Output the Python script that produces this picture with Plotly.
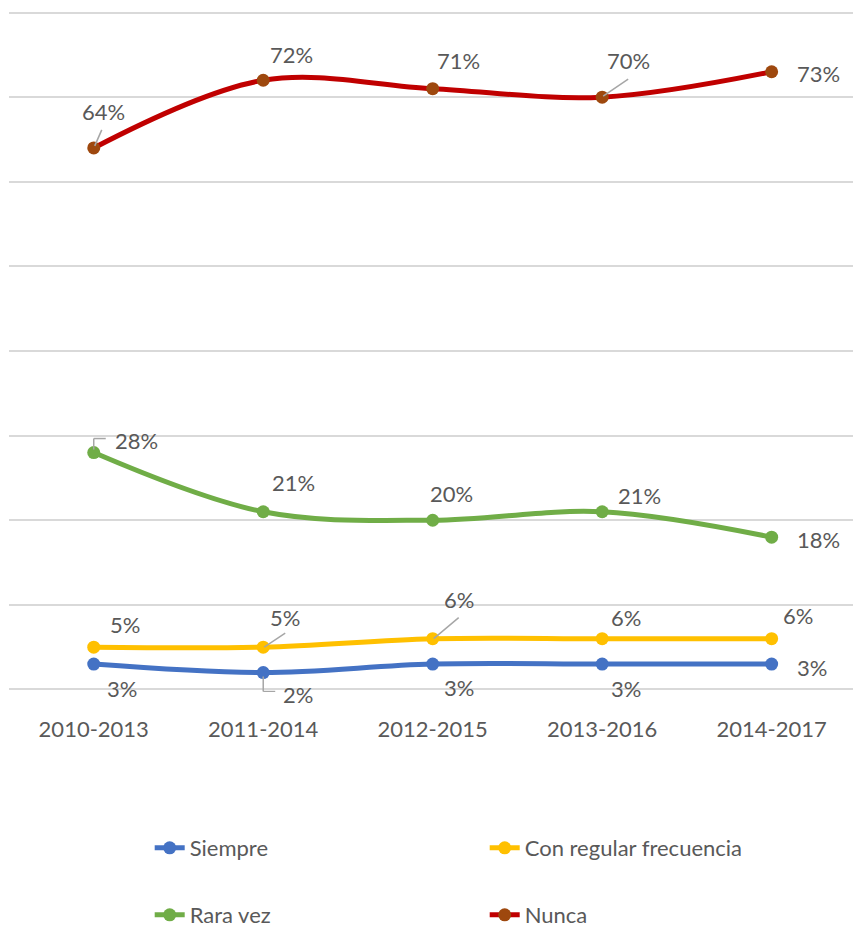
import plotly.graph_objects as go

# Periods on the category axis
periods = ["2010-2013", "2011-2014", "2012-2015", "2013-2016", "2014-2017"]

# Shares per answer (fraction of respondents)
siempre = [0.03, 0.02, 0.03, 0.03, 0.03]
con_regular = [0.05, 0.05, 0.06, 0.06, 0.06]
rara_vez = [0.28, 0.21, 0.20, 0.21, 0.18]
nunca = [0.64, 0.72, 0.71, 0.70, 0.73]

FONT = "Lato"
TEXT = "#595959"
GRID = "#D9D9D9"

series = [
    # name, values, line colour, marker colour, legend, label offsets (dx, dy) in px
    ("Siempre", siempre, "#4472C4", "#4472C4", "legend",
     [(28, -24), (35, -22), (26, -23), (24, -24), (40, -3)]),
    ("Con regular frecuencia", con_regular, "#FFC000", "#FFC000", "legend",
     [(31, 23), (22, 30), (26, 39), (24, 21), (26, 23)]),
    ("Rara vez", rara_vez, "#70AD47", "#70AD47", "legend2",
     [(43, 12), (30, 29), (19, 27), (37, 16), (47, -2)]),
    ("Nunca", nunca, "#C00000", "#9E480E", "legend2",
     [(10, 36), (28, 26), (26, 28), (26, 37), (47, -2)]),
]

fig = go.Figure()
annotations = []
for name, vals, lc, mc, leg, offs in series:
    fig.add_trace(go.Scatter(
        x=periods, y=vals, name=name, mode="lines+markers",
        line=dict(color=lc, width=5, shape="spline", smoothing=1.0),
        marker=dict(color=mc, size=13),
        legend=leg, hoverinfo="skip",
    ))
    for p, v, (dx, dy) in zip(periods, vals, offs):
        annotations.append(dict(
            x=p, y=v, xref="x", yref="y", text=f"{round(v * 100)}%",
            showarrow=False, xshift=dx, yshift=dy,
            font=dict(family=FONT, size=22, color=TEXT),
        ))

# Leader lines from points to their labels (pixel offsets anchored at the point)
LEADER = "#A6A6A6"
leaders = [
    (periods[0], nunca[0], [((1, 2), (8, 18))]),
    (periods[3], nunca[3], [((1, 1), (26, 18))]),
    (periods[1], con_regular[1], [((1, 0), (22, 14))]),
    (periods[2], con_regular[2], [((1, 0), (26, 21))]),
    (periods[0], rara_vez[0], [((0, 3), (0, 14)), ((0, 14), (12, 14))]),
    (periods[1], siempre[1], [((0, -4), (0, -19)), ((0, -19), (12, -19))]),
]
shapes = []
for p, v, segs in leaders:
    for (x0, y0), (x1, y1) in segs:
        shapes.append(dict(
            type="line", xref="x", yref="y",
            xsizemode="pixel", ysizemode="pixel",
            xanchor=p, yanchor=v, x0=x0, y0=y0, x1=x1, y1=y1,
            line=dict(color=LEADER, width=1.5), layer="above",
        ))

legend_common = dict(
    orientation="h", xanchor="left", yanchor="middle",
    xref="container", yref="container",
    font=dict(family=FONT, size=22, color=TEXT),
    bgcolor="rgba(0,0,0,0)", entrywidth=290, entrywidthmode="pixels",
    itemclick=False, itemdoubleclick=False,
)

fig.update_layout(
    width=853, height=929,
    margin=dict(l=9, r=0, t=10, b=237, autoexpand=False),
    paper_bgcolor="white", plot_bgcolor="white",
    showlegend=True,
    legend=dict(x=0.1755, y=1 - 848 / 929, **legend_common),
    legend2=dict(x=0.1755, y=1 - 915 / 929, **legend_common),
    xaxis=dict(
        type="category", range=[-0.5, 4.48], showgrid=False, zeroline=False,
        showline=False, ticks="", ticklabelstandoff=22,
        tickfont=dict(family=FONT, size=22, color=TEXT),
    ),
    yaxis=dict(
        # a little headroom so the 0% and 80% gridlines are kept
        range=[-0.003, 0.803], tickvals=[i / 10 for i in range(9)],
        showgrid=True, gridcolor=GRID, gridwidth=1.5,
        showticklabels=False, zeroline=False, showline=False, ticks="",
    ),
    annotations=annotations,
    shapes=shapes,
)

fig.write_html("out.html")
